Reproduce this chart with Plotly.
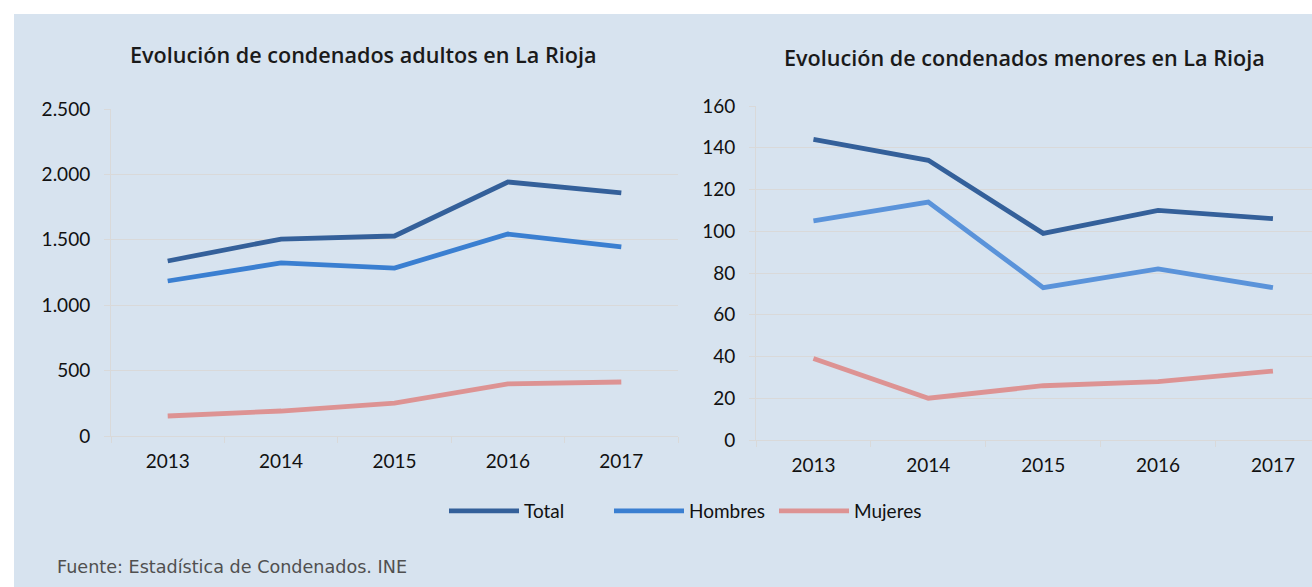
import plotly.graph_objects as go

years = ["2013", "2014", "2015", "2016", "2017"]

adultos_total = [1338, 1506, 1529, 1942, 1858]
adultos_hombres = [1185, 1323, 1284, 1544, 1445]
adultos_mujeres = [153, 191, 252, 398, 413]

menores_total = [144, 134, 99, 110, 106]
menores_hombres = [105, 114, 73, 82, 73]
menores_mujeres = [39, 20, 26, 28, 33]

series_names = ["Total", "Hombres", "Mujeres"]
colors_left = ["#34609A", "#3A7FD1", "#DD9393"]
colors_right = ["#34609A", "#5A93DA", "#DD9393"]

W, H = 1312, 587
BG = "#D7E3EF"
GRID = "#D9D9D9"
TICKFONT = dict(family="Lato", size=19, color="#111111")

fig = go.Figure()

for name, vals, col in zip(series_names, [adultos_total, adultos_hombres, adultos_mujeres], colors_left):
    fig.add_trace(go.Scatter(x=years, y=vals, name=name, mode="lines", legendgroup=name,
                             line=dict(color=col, width=4.8),
                             xaxis="x", yaxis="y", showlegend=True))
for name, vals, col in zip(series_names, [menores_total, menores_hombres, menores_mujeres], colors_right):
    fig.add_trace(go.Scatter(x=years, y=vals, name=name, mode="lines", legendgroup=name,
                             line=dict(color=col, width=4.8),
                             xaxis="x2", yaxis="y2", showlegend=False))

def px_x(p):
    return p / W

def px_y(p):
    return (H - p) / H

common_x = dict(type="category", categoryorder="array", categoryarray=years,
                tickson="boundaries", ticks="outside", ticklen=6, tickcolor=GRID,
                showline=True, linecolor=GRID, linewidth=1, showgrid=False,
                zeroline=False, tickfont=TICKFONT, ticklabelstandoff=8,
                automargin=False)
common_y = dict(ticks="outside", ticklen=6, tickcolor=GRID, showline=True,
                linecolor=GRID, linewidth=1, showgrid=True, gridcolor=GRID,
                gridwidth=1, zeroline=False, tickfont=TICKFONT,
                ticklabelstandoff=10, tickformat=",d", automargin=False)

fig.update_layout(
    width=W, height=H, autosize=False,
    margin=dict(l=0, r=0, t=0, b=0, pad=0),
    paper_bgcolor="white", plot_bgcolor="rgba(0,0,0,0)",
    separators=",.",
    xaxis=dict(common_x, domain=[px_x(111), px_x(678)], range=[-0.5, 4.5], anchor="y"),
    yaxis=dict(common_y, domain=[px_y(436), px_y(109)], range=[0, 2500], dtick=500, anchor="x"),
    xaxis2=dict(common_x, domain=[px_x(756), 1.0], range=[-0.5, 4.34], anchor="y2"),
    yaxis2=dict(common_y, domain=[px_y(440), px_y(106)], range=[0, 160], dtick=20, anchor="x2"),
    legend=dict(orientation="h", x=px_x(444), xanchor="left", y=px_y(511), yanchor="middle",
                font=dict(family="Lato", size=19, color="#111111"),
                bgcolor="rgba(0,0,0,0)", itemwidth=70,
                entrywidth=80, entrywidthmode="pixels"),
    shapes=[dict(type="rect", xref="paper", yref="paper", x0=px_x(14), x1=1.0,
                 y0=0, y1=px_y(14), fillcolor=BG, line=dict(width=0), layer="below")],
    annotations=[
        dict(text="Evolución de condenados adultos en La Rioja", xref="paper", yref="paper",
             x=px_x(363), y=px_y(55), xanchor="center", yanchor="middle", showarrow=False,
             font=dict(family="Open Sans", size=21.6, color="#1a1a1a", weight=600)),
        dict(text="Evolución de condenados menores en La Rioja", xref="paper", yref="paper",
             x=px_x(1024), y=px_y(58), xanchor="center", yanchor="middle", showarrow=False,
             font=dict(family="Open Sans", size=21.6, color="#1a1a1a", weight=600)),
        dict(text="Fuente: Estadística de Condenados. INE", xref="paper", yref="paper",
             x=px_x(55), y=px_y(567), xanchor="left", yanchor="middle", showarrow=False,
             font=dict(family="DejaVu Sans", size=17.6, color="#505050")),
    ],
)

fig.write_html("out.html", config={"displayModeBar": False},
               post_script="document.body.style.margin='0';")
